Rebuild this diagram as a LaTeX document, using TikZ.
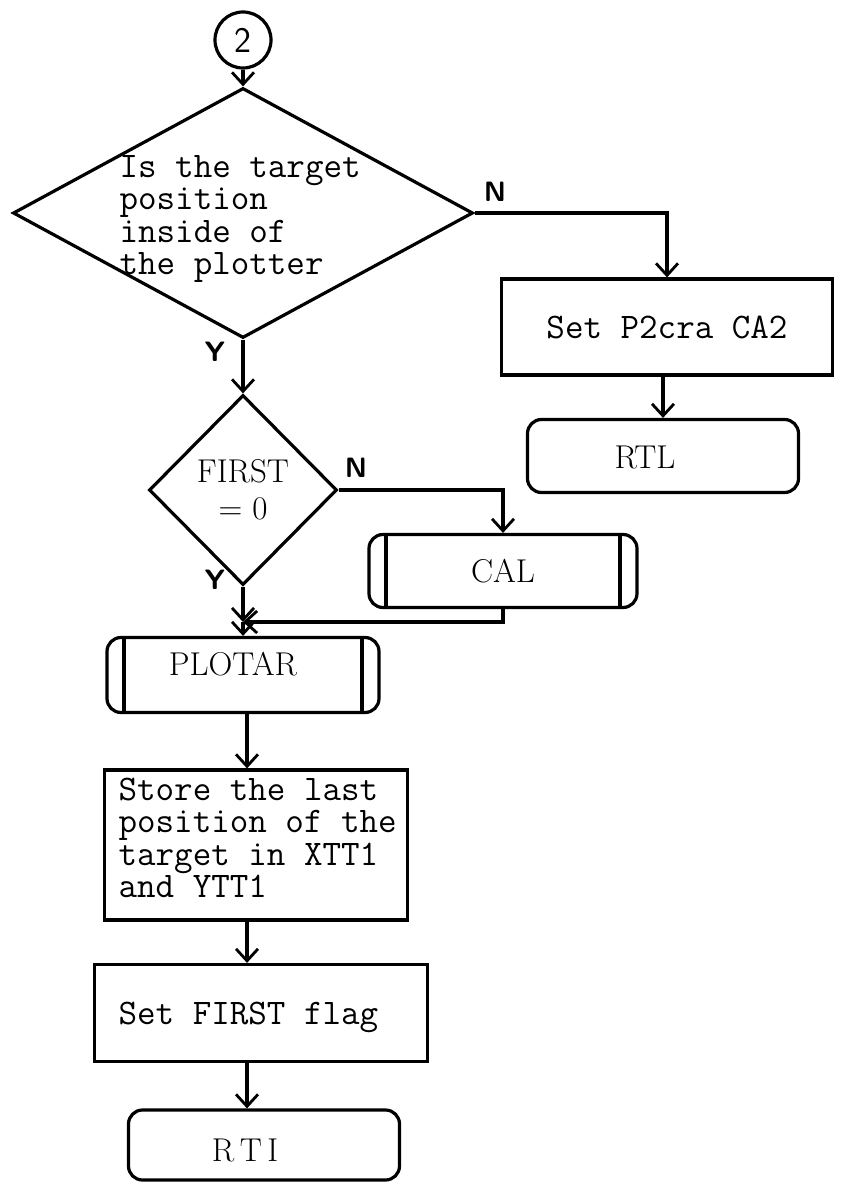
\documentclass[tikz,border=0pt]{standalone}
\usepackage{fontspec}
\usetikzlibrary{shapes.geometric,arrows.meta,calc}
\begin{document}
\begin{tikzpicture}[x=1pt,y=-1pt,
  line width=3.2pt,
  arr/.style={-{Straight Barb[length=12pt,width=22pt,line width=2.8pt]}},
  box/.style={draw, rectangle, inner sep=0pt},
  term/.style={draw, rectangle, rounded corners=14pt, inner sep=0pt},
  pred/.style={draw, rectangle, rounded corners=14pt, inner sep=0pt,
    path picture={\draw[line width=3.2pt]
      ([xshift=17pt]path picture bounding box.north west) -- ([xshift=17pt]path picture bounding box.south west)
      ([xshift=-17pt]path picture bounding box.north east) -- ([xshift=-17pt]path picture bounding box.south east);}},
  tt/.style={font=\fontsize{36}{32.5}\selectfont\ttfamily, align=left, inner sep=0pt},
  rm/.style={font=\fontsize{33}{37}\selectfont\rmfamily, inner sep=0pt},
  lab/.style={font=\fontsize{28}{30}\selectfont\sffamily\bfseries, inner sep=0pt},
]
\useasboundingbox (0,0) rectangle (843,1182);

% main column
\node[circle, draw, minimum size=56pt, inner sep=0pt, font=\fontsize{36}{38}\selectfont\sffamily] (c2) at (243,40) {2};
\node[diamond, draw, minimum width=460pt, minimum height=250pt, inner sep=0pt] (d1) at (243,213) {};
\node[tt, anchor=west] (d1t) at (118,219) {Is the target\\position\\inside of\\the plotter};

\node[diamond, draw, minimum width=188pt, minimum height=190pt, inner sep=0pt, rm, align=center] (d2) at (243,490) {FIRST\\= 0};

\node[pred, rm, minimum width=268pt, minimum height=73pt] (cal) at (503,571) {CAL};

\node[pred, minimum width=272pt, minimum height=75pt] (plotar) at (243,675) {};
\node[rm] (plotart) at (233,664) {PLOTAR};

\node[box, minimum width=303pt, minimum height=150pt] (store) at (256,845) {};
\node[tt, anchor=west] (storet) at (117,838) {Store the last\\position of the\\target in XTT1\\and YTT1};

\node[box, minimum width=333pt, minimum height=97pt] (setf) at (261,1013) {};
\node[tt, anchor=west] (setft) at (117,1017) {Set FIRST flag};

\node[term, minimum width=271pt, minimum height=70pt] (rti) at (264,1145) {};
\node[rm] (rtit) at (245,1150) {R\,T\,I};

% right branch
\node[box, tt, minimum width=331pt, minimum height=96pt] (p2) at (667,327) {Set P2cra CA2};
\node[term, minimum width=271pt, minimum height=73pt] (rtl) at (663,456) {};
\node[rm] (rtlt) at (645,457) {RTL};

% labels
\node[lab] (n1) at (495,192) {N};
\node[lab] (n2) at (356,468) {N};
\node[lab] (y1) at (215,352) {Y};
\node[lab] (y2) at (215,580) {Y};

\coordinate (ax) at (247,0);
\coordinate (join) at (243,622);

% connectors
\draw[arr] (c2.south) -- (d1.north);
\draw[arr] (d1.east) -| (p2.north);
\draw[arr] (rtl.north |- p2.south) -- (rtl.north);
\draw[arr] (d1.south) -- (d2.north);
\draw[arr] (d2.east) -| (cal.north);
\draw[arr] (d2.south) -- (join);
\draw[arr] (cal.south) |- (join);
\draw[arr] (join) -- (plotar.north);
\draw[arr] (plotar.south -| ax) -- (store.north -| ax);
\draw[arr] (store.south -| ax) -- (setf.north -| ax);
\draw[arr] (setf.south -| ax) -- (rti.north -| ax);
\end{tikzpicture}
\end{document}
